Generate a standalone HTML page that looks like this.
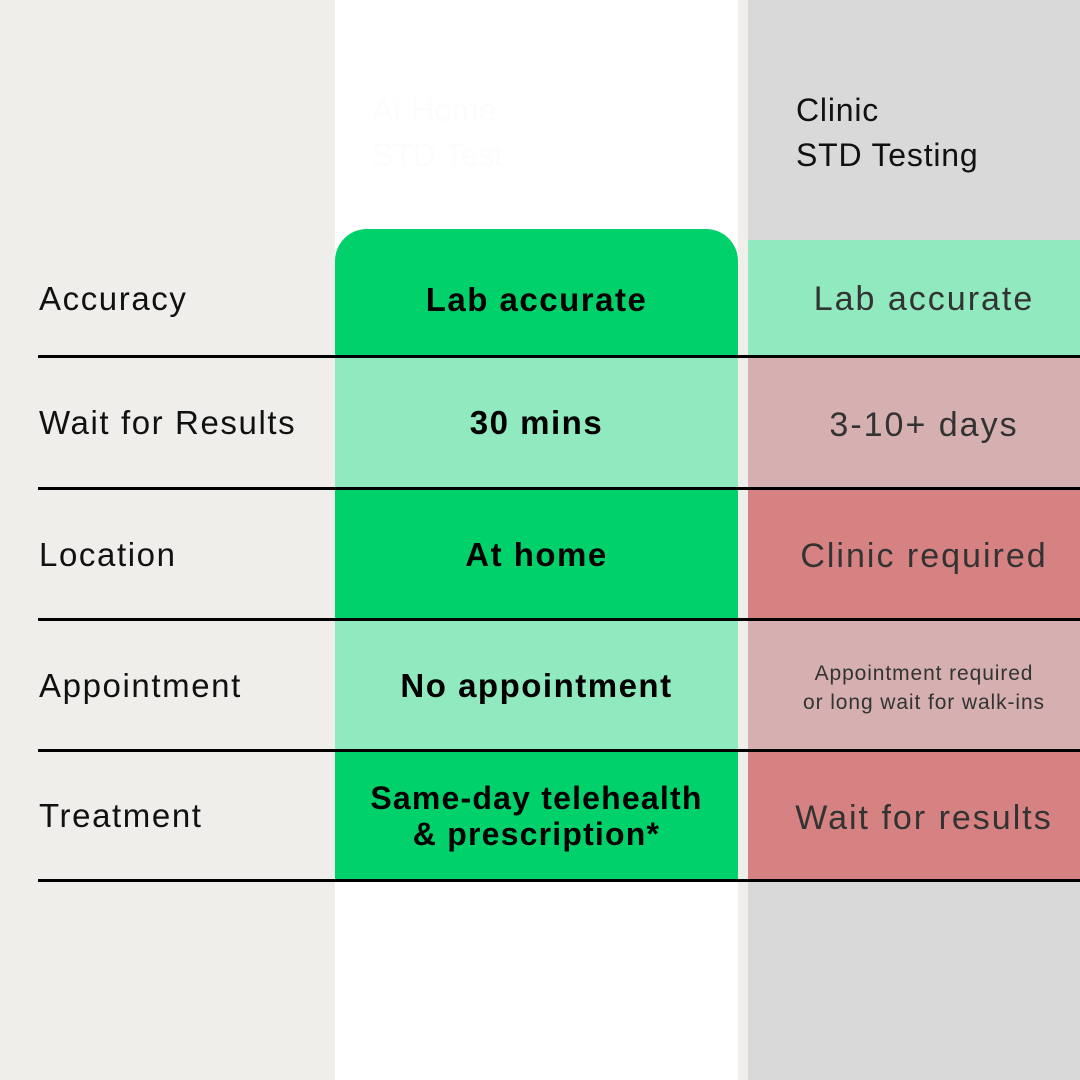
<!DOCTYPE html>
<html><head><style>
body{margin:0;width:1080px;height:1080px;position:relative;overflow:hidden;background:#efeeeb;font-family:"Liberation Sans",sans-serif}
div{position:absolute;box-sizing:border-box}
.c{display:flex;align-items:center;justify-content:center;text-align:center}
.l{left:39px;width:296px;display:flex;align-items:center;font-size:33px;letter-spacing:1.6px;color:#111;white-space:nowrap}
.m{left:335px;width:403px;font-size:33px;letter-spacing:1.5px;color:#000;font-weight:bold;line-height:36px}
.r{left:748px;width:332px;font-size:34px;letter-spacing:2px;color:#333;white-space:nowrap;padding-left:20px}
.ln{left:38px;width:1042px;height:3px;background:#000}
</style></head><body>
<div style="left:335px;top:0;width:403px;height:1080px;background:#fff"></div>
<div style="left:748px;top:0;width:332px;height:1080px;background:#d9d9d9"></div>
<div style="left:372px;top:88px;font-size:32px;color:#fdfcfc;line-height:45px">At Home<br>STD Test</div>
<div style="left:796px;top:88px;font-size:32px;letter-spacing:0.8px;color:#111;line-height:45px">Clinic<br>STD Testing</div>

<div class="m c" style="top:229px;height:128px;background:#00d16a;border-radius:32px 32px 0 0;padding-top:14px">Lab accurate</div>
<div class="m c" style="top:357px;height:132px;background:#90e9bf">30 mins</div>
<div class="m c" style="top:489px;height:131px;background:#00d16a">At home</div>
<div class="m c" style="top:620px;height:131px;background:#90e9bf">No appointment</div>
<div class="m c" style="top:751px;height:130px;background:#00d16a;font-size:32px;letter-spacing:1.2px">Same-day telehealth<br>&amp; prescription*</div>

<div class="r c" style="top:240px;height:117px;background:#90e9bf;padding-top:2px">Lab accurate</div>
<div class="r c" style="top:357px;height:132px;background:#d6b0b0;padding-top:4px">3-10+ days</div>
<div class="r c" style="top:489px;height:131px;background:#d68282;padding-top:4px">Clinic required</div>
<div class="r c" style="top:620px;height:131px;background:#d6b0b0;font-size:21px;letter-spacing:0.9px;line-height:29px;padding-top:4px">Appointment required<br>or long wait for walk-ins</div>
<div class="r c" style="top:751px;height:130px;background:#d68282;padding-top:4px">Wait for results</div>

<div class="l" style="top:240px;height:117px">Accuracy</div>
<div class="l" style="top:357px;height:132px">Wait for Results</div>
<div class="l" style="top:489px;height:131px">Location</div>
<div class="l" style="top:620px;height:131px">Appointment</div>
<div class="l" style="top:751px;height:130px">Treatment</div>

<div class="ln" style="top:355px"></div>
<div class="ln" style="top:487px"></div>
<div class="ln" style="top:618px"></div>
<div class="ln" style="top:749px"></div>
<div class="ln" style="top:879px"></div>
</body></html>
